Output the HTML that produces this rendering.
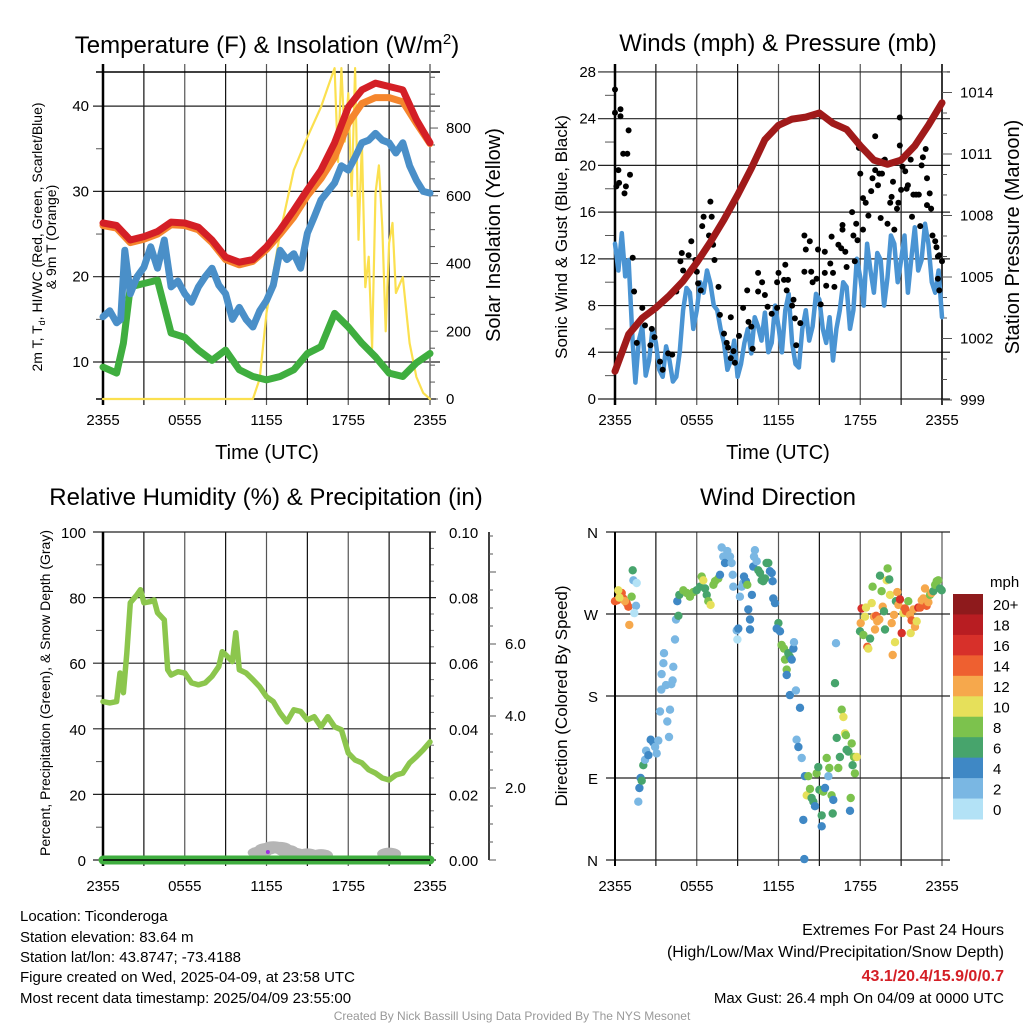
<!DOCTYPE html>
<html><head><meta charset="utf-8"><style>
html,body{margin:0;padding:0;background:#fff;}
svg{display:block;font-family:"Liberation Sans",sans-serif;}
</style></head><body>
<svg id="c" width="1024" height="1024" viewBox="0 0 1024 1024" xmlns="http://www.w3.org/2000/svg"></svg>
<script>
// ---------- DATA ----------
const hours = [0,1,2,3,4,5,6,7,8,9,10,11,12,13,14,15,16,17,18,19,20,21,22,23,24];
const xTickLabels = ["2355","0555","1155","1755","2355"];
// Panel 1
const temp2m = [26.3,26.0,24.3,24.7,25.3,26.4,26.3,25.8,24.3,22.3,21.7,22.0,23.5,25.5,27.8,30.2,32.5,35.7,39.9,41.9,42.7,42.3,41.9,38.4,35.7];
const temp9m = [26.0,25.7,24.0,24.4,25.0,26.1,26.0,25.5,24.0,22.0,21.4,21.8,23.2,25.0,27.0,29.5,31.5,34.0,38.0,40.3,41.0,41.0,40.5,38.0,35.6];
const hiwcHours = [0,0.5,1,1.3,1.6,2,2.5,3,3.5,4,4.5,5,5.5,6,6.5,7,7.5,8,8.5,9,9.5,10,10.5,11,11.5,12,12.5,13,13.5,14,14.5,15,15.5,16,16.5,17,17.5,18,18.5,19,19.5,20,20.5,21,21.5,22,22.5,23,23.5,24];
const hiwc = [15.3,16,14.6,15,23.1,18,20,21.1,23.5,21,24.3,18.8,19.5,18,17,18.8,20,21,19,18,15,16.4,15,14.1,16,17.2,19,23.1,22,22.7,21,25.1,27,29,30,31,33,32.5,34,35.7,36,36.8,36,35.7,34.5,35.7,33,31.3,30,29.8];
const dewHours = [0,1,1.5,2,3,4,5,6,7,8,9,10,11,12,13,14,15,16,17,18,19,20,21,22,23,24];
const dewpt = [9.4,8.7,12.2,18.8,19.2,19.6,13.4,12.9,11.4,10.2,11.4,9.1,8.3,7.9,8.3,9.1,11,11.8,15.7,14.1,12.2,10.6,8.7,8.3,9.9,11];
const insolHours = [0,11,11.5,12,13,14,15,16,16.5,17,17.25,17.5,17.75,18,18.25,18.5,18.75,19,19.25,19.5,19.75,20,20.25,20.5,20.75,21,21.25,21.5,22,22.5,23,23.5,24];
const insol = [0,0,60,254,490,676,773,862,920,977,700,977,760,903,600,977,470,755,330,420,150,608,690,508,200,460,520,313,360,165,65,18,0];
// Panel 2
const windHours = [0,0.25,0.5,0.75,1,1.3,1.5,1.75,2,2.25,2.5,2.75,3,3.25,3.5,3.75,4,4.25,4.5,4.75,5,5.25,5.5,5.75,6,6.25,6.5,6.75,7,7.25,7.5,7.75,8,8.25,8.5,8.75,9,9.25,9.5,9.75,10,10.25,10.5,10.75,11,11.25,11.5,11.75,12,12.25,12.5,12.75,13,13.25,13.5,13.75,14,14.25,14.5,14.75,15,15.25,15.5,15.75,16,16.25,16.5,16.75,17,17.25,17.5,17.75,18,18.25,18.5,18.75,19,19.25,19.5,19.75,20,20.25,20.5,20.75,21,21.25,21.5,21.75,22,22.25,22.5,22.75,23,23.25,23.5,23.75,24];
const windSpd = [13.3,11,14.2,10.5,11.9,4.8,1.4,5,6.2,2,3.3,6,4.8,2.5,1.9,4.5,3.3,1.5,1.9,4,7.6,9.5,9.1,6,7.6,10,9.1,11,9.9,8,7.6,6,4.8,2.5,3.3,5,1.9,3,4.8,6,3.9,7,6.2,5,7.4,4,4.8,8,6.2,4,7.6,9,4.8,3,2.7,6,7.6,5,6.2,9,8.5,6,4.8,7,3.3,6,7.6,10,9.6,6,7.6,12,10.4,8,13.3,11,9.1,12.5,11.9,8,10.4,14,13.3,10,11.9,14,9.1,12,14.7,11,11.9,15,13.3,10,9.1,11,7.0];
const pressure = [1000.4,1002.2,1003,1003.5,1004.1,1004.8,1005.7,1006.7,1007.8,1009,1010.3,1011.7,1012.4,1012.7,1012.8,1013,1012.5,1012.2,1011.4,1010.7,1010.5,1010.7,1011.4,1012.4,1013.5];
const gustHours = [0,0,0.4,0.4,1,0.6,0.9,0.25,0.1,0.3,0.8,0.7,1.1,1.3,1.4,1.6,2,2.2,2.7,2.9,2.6,3.3,3.5,3.9,4.2,4.5,4.8,5,4.9,5.6,5.4,5.9,6,6.4,6.5,7,7.1,6.9,7.2,7.3,7.6,6.1,6.3,7.7,8.5,8,8.2,8.3,8.7,8.5,8.8,9.1,9.4,9.7,9.8,10,10.1,10.5,10.8,10.5,11,11.2,11.5,12,11.9,11.9,12.5,12.4,12.6,12.7,13.1,13,13.2,13.6,13.3,13.9,14,13.9,14.3,14.4,14.5,14.8,14.9,15.1,15.4,15.4,15.5,15.8,15.9,16,16.1,16.4,16.6,16.7,16.7,16.9,17,17.4,17.5,17.7,17.6,17.8,17.9,18,18.2,18.2,18.4,18.6,18.8,18.9,19.1,19.1,19.3,19.4,19.6,19.5,19.7,19.8,20,20.2,20.3,20.4,20.5,20.7,20.8,20.9,20.9,21,21.1,21.3,21.4,21.5,21.7,21.8,21.9,22.1,22.3,22.4,22.5,22.6,22.8,22.9,22.9,23.1,23.2,23.3,23.5,23.6,23.7,23.8,24,23.7,23.8];
const gustSpd = [26.5,24.5,24.8,24.2,23,21,21,19.6,18.2,18.5,18.2,17.6,19.2,12.1,9.2,4.8,7.8,6.3,6,5.3,4.6,3.2,2.5,3.9,3.8,9.2,11.8,11,12.5,13.5,12.3,11.9,10.9,14.8,15.6,16.9,15.6,14,13.2,11.9,9.6,9.9,9.3,7.2,7,5.6,4.8,4.4,4.1,3.5,3.1,5.4,7.8,9.3,6.6,6.2,4.3,10.8,10,9.2,8.9,7.9,7.3,10.8,10,7.8,11.5,10.2,9.3,10.2,8.5,8,6.9,6.5,4.6,14,12.8,10.9,13.5,10.9,10,10.3,12.8,8.1,12.6,10.8,9.7,11.6,13.9,10.8,9.6,13.2,12.9,14.9,14.5,12.6,11.3,16,14,15,11.8,13.6,21.5,19.3,14.5,17.2,16.8,15.7,17.8,18.9,22.5,19.6,18.3,19.3,19.3,15.5,20.4,20.5,15,16.8,17.3,18.6,14.5,16.3,16.8,24.1,21.7,17.9,19.9,19.5,18,18.3,20.5,15.6,17.5,17.5,17.5,14.8,20,20.7,21.4,18.9,16.6,17.6,16.3,14,13.5,13,12.2,12.3,11.8,10.3,9.3];
// Panel 3
const rhHours = [0,0.5,1,1.25,1.5,1.75,2,2.5,2.75,3,3.5,3.75,4,4.5,4.75,5,5.5,6,6.5,7,7.5,8,8.5,8.75,9,9.5,9.75,10,10.5,11,11.5,12,12.5,13,13.5,14,14.5,15,15.5,16,16.5,17,17.5,18,18.5,19,19.5,20,20.5,21,21.5,22,22.5,23,23.5,24];
const rh = [48.3,47.9,48.3,57,51,63,78.4,80.9,82.4,78.4,78.8,79.3,75.4,73.2,58,56.4,57.4,57,54,53.4,54,56,59,63.5,62.6,60.5,69.3,58,57,55,52.8,49.8,48.3,44.8,42.1,45.8,45.3,42.7,43.7,40.6,43.7,40.6,39.7,32.6,30.5,29.6,27.5,26.5,25,24.4,25.9,26.5,29.6,31.5,33.6,36];
const snowHours = [11.5,12,12.5,13,13.5,14,15,16,21];
const snowDepth = [0.15,0.25,0.3,0.28,0.2,0.12,0.1,0.08,0.12];
// Panel 4
const dirHours = [0,0.17,0.37,0.49,0.24,0.61,0.86,0.98,1.05,1.22,1.3,1.35,1.59,1.54,1.42,0.73,0.32,1.71,1.79,1.88,1.96,2.08,2.2,2.28,2.45,2.62,2.81,2.94,3.06,3.18,3.3,3.4,3.42,3.55,3.6,3.74,3.84,3.96,4.04,4.13,4.23,4.28,4.4,4.48,4.57,4.65,4.72,5.01,5.26,5.5,5.75,5.99,6.24,6.36,6.48,6.61,6.73,6.85,7.02,7.22,7.34,7.58,7.71,7.83,7.95,8.07,8.24,8.44,8.56,8.64,8.68,8.93,8.98,9.05,9.17,9.3,9.42,9.47,9.61,9.71,9.78,9.91,9.91,10.05,10.15,10.27,10.2,10.4,10.52,10.64,10.76,10.88,11.01,11.13,11.25,11.37,11.5,11.57,11.62,11.74,11.99,11.87,12.11,12.23,12.4,12.48,12.6,12.72,12.84,12.97,13.09,13.14,12.6,12.84,13.28,13.58,13.33,13.46,13.7,13.94,14.07,14.19,14.31,14.43,14.56,14.68,14.8,14.92,15,15.17,15.17,15.29,15.41,15.54,15.66,15.73,15.9,15.98,16.02,16.22,16.15,16.27,16.39,16.51,16.64,16.76,16.88,16.95,17,17.13,17.37,17.44,17.54,17.61,17.74,17.3,17.25,13.82,13.89,17.98,18.03,18.1,18.23,18.35,18.42,18.52,18.59,18.72,18.84,18.91,19.01,19.08,19.16,19.25,19.4,19.45,19.57,19.65,19.74,19.82,19.94,20.01,20.13,20.18,20.31,20.38,20.48,20.55,20.62,20.72,20.8,20.92,21.04,21.16,21.28,21.36,21.53,21.65,21.7,21.77,21.9,22.02,22.14,22.26,22.39,22.51,22.63,22.75,22.87,23,23.12,23.24,23.36,23.49,23.61,23.73,23.85,23.98];
const dirDeg = [284,285,291,293,296,287,282,278,258,289,318,307,304,279,271,284,288,64,79,90,87,104,110,120,115,132,129,124,117,131,163,187,204,216,227,192,152,135,165,193,197,212,242,264,284,268,291,296,293,289,294,296,300,311,307,298,291,284,280,302,306,309,313,343,333,326,339,333,326,313,300,252,242,254,289,300,304,311,306,302,275,264,253,291,322,340,333,328,318,315,307,306,309,326,326,317,315,306,287,282,260,254,251,236,232,220,209,227,223,220,232,239,203,181,186,167,132,124,112,92,71,92,78,68,64,59,95,102,77,49,37,75,79,112,92,101,71,51,66,238,194,134,101,113,165,157,139,137,121,119,128,104,113,95,113,68,54,44,1,251,260,276,247,267,277,234,232,243,282,300,267,253,268,262,264,312,295,278,273,253,307,320,308,291,260,225,269,239,284,294,280,286,249,271,276,273,284,269,249,263,275,256,262,277,277,285,287,298,279,283,291,293,295,302,306,307,298,296];
const dirSpd = [15,15,15,15,11,15,15,15,13,9,7,3,1,3,1,13,11,3,5,5,7,7,3,3,5,5,5,3,3,3,3,3,3,3,3,3,3,3,3,3,3,3,3,3,5,7,7,9,9,9,9,7,7,9,11,7,7,9,11,9,9,9,5,3,3,5,3,3,3,3,3,3,1,5,3,3,3,5,5,9,5,5,5,5,5,3,3,3,7,7,7,7,7,7,7,5,5,5,5,5,7,5,5,9,9,9,9,7,7,5,5,3,5,5,3,5,3,5,3,5,11,9,9,7,7,5,9,7,7,7,5,9,5,9,3,9,9,7,5,3,7,7,9,7,9,11,11,9,7,7,9,7,9,9,11,9,5,5,5,7,13,17,9,11,11,15,11,7,11,9,13,13,15,13,13,7,9,13,7,7,11,9,7,11,13,13,13,11,7,13,13,17,17,11,15,15,9,13,11,15,13,13,11,17,15,13,13,13,15,13,9,13,7,9,9,9,7,7];
const speedBinLabels = ["20+","18","16","14","12","10","8","6","4","2","0"];
const speedBinColors = ["#8e1a1c","#b81d22","#d7302a","#ee6030","#f6a84c","#e6e05a","#7cc24d","#47a46c","#3f88c5","#7ab7e3","#b3e2f6"];

// ---------- HELPERS ----------
const NS="http://www.w3.org/2000/svg";
const svg=document.getElementById('c');
function el(tag,attrs,parent,text){const e=document.createElementNS(NS,tag);for(const k in attrs)e.setAttribute(k,attrs[k]);if(text!==undefined)e.textContent=text;(parent||svg).appendChild(e);return e;}
function grp(name){const g=el('g',{});


return g;}
function txt(parent,name,x,y,s,size,anchor,extra){const t=el('text',Object.assign({x:x,y:y,'font-size':size,'text-anchor':anchor||'middle',fill:'#000'},extra||{}),parent,s);


return t;}
function line(p,x1,y1,x2,y2,st,w){return el('line',{x1:x1,y1:y1,x2:x2,y2:y2,stroke:st||'#000','stroke-width':w||1},p);}
function path(p,xs,ys,fx,fy,color,w,name){let d='';for(let i=0;i<xs.length;i++)d+=(i?'L':'M')+fx(xs[i]).toFixed(1)+','+fy(ys[i]).toFixed(1);const e=el('path',{d:d,fill:'none',stroke:color,'stroke-width':w,'stroke-linejoin':'round','stroke-linecap':'round'},p);


return e;}

function timeAxis(g,x0,x1,yTop,yBot,labY){
  const fx=h=>x0+(x1-x0)*h/24;
  for(let i=0;i<=8;i++){const x=fx(i*3);line(g,x,yTop-8,x,yBot+6,i%2?'#111':'#555',1.2);}
  for(let i=0;i<xTickLabels.length;i++)txt(g,'x-tick-label',fx(i*6),labY,xTickLabels[i],15);
  return fx;
}

// ---------- PANEL 1 ----------
(function(){
  const g=grp('temperature-panel');
  const X0=103,X1=430,Y0=72,Y1=399;
  const fy=v=>362-(v-10)*8.53;
  const fi=v=>399-v*0.3387;
  const fx=timeAxis(g,X0,X1,Y0,Y1,425);
  [10,20,30,40].forEach(v=>{line(g,93,fy(v),440,fy(v),'#222',1.2);txt(g,'y-tick-label',89,fy(v)+5,String(v),15,'end');});
  [15,25,35].forEach(v=>line(g,96,fy(v),103,fy(v),'#555',1));
  line(g,96,Y0,440,Y0,'#000',1.5);line(g,96,Y1,436,Y1,'#000',1.5);
  line(g,X0,64,X0,Y1+6,'#000',2.5);line(g,X1,64,X1,Y1+6,'#777',1.5);
  for(let v=0;v<=950;v+=50){const y=fi(v);line(g,X1,y,X1+(v%200==0?8:5),y,'#555',1);}
  [0,200,400,600,800].forEach(v=>txt(g,'right-tick-label',446,fi(v)+5,String(v),15,'start'));
  path(g,insolHours,insol,fx,fi,'#fbe04f',2.2,'insolation-line');
  path(g,dewHours,dewpt,fx,fy,'#3fae3f',7,'dewpoint-line');
  path(g,hiwcHours,hiwc,fx,fy,'#4a8fc8',7,'heat-index-windchill-line');
  path(g,hours,temp9m,fx,fy,'#f5862d',7,'temp-9m-line');
  path(g,hours,temp2m,fx,fy,'#d41f26',7,'temp-2m-line');
  const t=txt(g,'chart-title',267,53,'Temperature (F) & Insolation (W/m',24);
  el('tspan',{dy:-9,'font-size':15},t,'2');el('tspan',{dy:9},t,')');
  txt(g,'x-axis-title',267,459,'Time (UTC)',20);
  const yl=txt(g,'y-axis-title',0,0,'',14,'middle',{transform:'translate(42,237) rotate(-90)'});
  el('tspan',{x:0,dy:0},yl,'2m T, T');el('tspan',{'font-size':9,dy:3},yl,'d');el('tspan',{dy:-3},yl,', HI/WC (Red, Green, Scarlet/Blue)');
  txt(g,'y-axis-title-2',0,0,'& 9m T (Orange)',14,'middle',{transform:'translate(56,237) rotate(-90)'});
  txt(g,'right-axis-title',0,0,'Solar Insolation (Yellow)',20,'middle',{transform:'translate(500,235) rotate(-90)'});
})();

// ---------- PANEL 2 ----------
(function(){
  const g=grp('winds-panel');
  const X0=615,X1=942,Y0=72,Y1=399;
  const fy=v=>399-v*11.68;
  const fp=v=>400-(v-999)*20.5;
  const fx=timeAxis(g,X0,X1,Y0,Y1,425);
  for(let v=0;v<=28;v+=4){const y=fy(v);line(g,598,y,950,y,'#222',1.2);txt(g,'y-tick-label',596,y+5,String(v),15,'end');}
  for(let v=2;v<28;v+=4)line(g,605,fy(v),X0,fy(v),'#555',1);
  line(g,X0,64,X0,Y1+6,'#000',2.5);line(g,X1,64,X1,Y1+6,'#000',1.5);
  for(let v=999;v<=1015;v++){const y=fp(v);line(g,X1,y,X1+((v-999)%3==0?10:5),y,'#555',1);}
  for(let v=999;v<=1014;v+=3)txt(g,'right-tick-label',960,fp(v)+5,String(v),15,'start');
  path(g,windHours,windSpd,fx,fy,'#4a94d3',4.5,'sonic-wind-line');
  const gg=grp('gust-points');g.appendChild(gg);
  for(let i=0;i<gustHours.length;i++){const c=el('circle',{cx:fx(gustHours[i]).toFixed(1),cy:fy(gustSpd[i]).toFixed(1),r:3,fill:'#000'},gg);
    
    }
  path(g,hours,pressure,fx,fp,'#a01a1a',7,'pressure-line');
  txt(g,'chart-title',778,51,'Winds (mph) & Pressure (mb)',24);
  txt(g,'x-axis-title',778,459,'Time (UTC)',20);
  txt(g,'y-axis-title',0,0,'Sonic Wind & Gust (Blue, Black)',17,'middle',{transform:'translate(567,237) rotate(-90)'});
  txt(g,'right-axis-title',0,0,'Station Pressure (Maroon)',20,'middle',{transform:'translate(1019,237) rotate(-90)'});
})();

// ---------- PANEL 3 ----------
(function(){
  const g=grp('humidity-panel');
  const X0=103,X1=430,Y0=532,Y1=860;
  const fy=v=>860-v*3.28;
  const fs=v=>860-v*36;
  const fx=timeAxis(g,X0,X1,Y0+8,Y1,891);
  for(let v=0;v<=100;v+=20){const y=fy(v);line(g,93,y,436,y,'#222',1.2);txt(g,'y-tick-label',86,y+6,String(v),15,'end');
    txt(g,'precip-tick-label',449,y+6,(v/1000).toFixed(2),15,'start');}
  for(let v=10;v<100;v+=20)line(g,96,fy(v),103,fy(v),'#555',1);
  for(let v=5;v<100;v+=5){if(v%20)line(g,X1,fy(v),X1+4,fy(v),'#777',1);}
  line(g,X0,Y0,X0,Y1+6,'#000',2.5);line(g,X1,Y0,X1,Y1+6,'#000',1.5);
  line(g,489,Y0,489,Y1,'#000',1.5);
  for(let v=0;v<=9;v+=0.5){const y=fs(v);line(g,489,y,(v%2==0)?496:493,y,'#555',1);}
  [2,4,6].forEach(v=>txt(g,'snow-tick-label',505,fs(v)+5,v.toFixed(1),15,'start'));
  path(g,rhHours,rh,fx,fy,'#8cc64d',5.5,'rh-line');
  const sg=grp('snow-depth');g.appendChild(sg);
  for(let i=0;i<snowHours.length;i++)el('ellipse',{cx:fx(snowHours[i]),cy:fs(snowDepth[i])-2,rx:12,ry:6,fill:'#b5b5b5'},sg);
  path(g,[0,24],[0,0],fx,fy,'#3fae3f',9,'precip-line');
  line(g,X0,Y1,X1,Y1,'#000',1.5);
  el('circle',{cx:fx(12.1),cy:852,r:2,fill:'#9b30e0'},g);
  txt(g,'chart-title',266,505,'Relative Humidity (%) & Precipitation (in)',24);
  txt(g,'y-axis-title',0,0,'Percent, Precipitation (Green), & Snow Depth (Gray)',14,'middle',{transform:'translate(50,693) rotate(-90)'});
})();

// ---------- PANEL 4 ----------
(function(){
  const g=grp('wind-direction-panel');
  const X0=615,X1=942,Y0=532,Y1=860;
  const fd=v=>860-v*(328/360);
  const fx=timeAxis(g,X0,X1,Y0+8,Y1,891);
  const dl=['N','E','S','W','N'];
  for(let i=0;i<5;i++){const y=fd(i*90);line(g,606,y,950,y,'#222',1.2);txt(g,'direction-tick-label',598,y+6,dl[i],15,'end');}
  line(g,X0,Y0,X0,Y1+6,'#000',2);
  function col(s){let b=Math.min(10,Math.floor(s/2));return speedBinColors[10-b];}
  const pg=grp('direction-points');g.appendChild(pg);
  for(let i=0;i<dirHours.length;i++){const c=el('circle',{cx:fx(dirHours[i]).toFixed(1),cy:fd(dirDeg[i]).toFixed(1),r:4.2,fill:col(dirSpd[i])},pg);
    
    }
  const lg=grp('speed-colorbar');g.appendChild(lg);
  const bh=(819-594)/11;
  for(let i=0;i<11;i++){el('rect',{x:953,y:594+i*bh,width:30,height:bh+0.5,fill:speedBinColors[i]},lg);
    txt(lg,'colorbar-label',993,594+i*bh+bh/2+6,speedBinLabels[i],15,'start');}
  txt(lg,'colorbar-title',990,587,'mph',15,'start');
  txt(g,'chart-title',778,505,'Wind Direction',24);
  txt(g,'y-axis-title',0,0,'Direction (Colored By Speed)',17,'middle',{transform:'translate(567,696) rotate(-90)'});
})();

// ---------- FOOTER ----------
(function(){
  const g=grp('footer');
  const L=[['location-text','Location: Ticonderoga'],['elevation-text','Station elevation: 83.64 m'],['latlon-text','Station lat/lon: 43.8747; -73.4188'],['created-text','Figure created on Wed, 2025-04-09, at 23:58 UTC'],['timestamp-text','Most recent data timestamp: 2025/04/09 23:55:00']];
  const ys=[921,942,962,982,1003];
  L.forEach((l,i)=>{txt(g,l[0],20,ys[i],l[1],15,'start');});
  txt(g,'extremes-title',1004,935,'Extremes For Past 24 Hours',16,'end');
  txt(g,'extremes-legend',1004,957,'(High/Low/Max Wind/Precipitation/Snow Depth)',16,'end');
  txt(g,'extremes-values',1004,981,'43.1/20.4/15.9/0/0.7',16,'end',{fill:'#d41f26','font-weight':'bold'});
  txt(g,'max-gust-text',1004,1003,'Max Gust: 26.4 mph On 04/09 at 0000 UTC',15,'end');
  txt(g,'credit-text',512,1020,'Created By Nick Bassill Using Data Provided By The NYS Mesonet',12,'middle',{fill:'#999'});
})();
</script>
</body></html>
